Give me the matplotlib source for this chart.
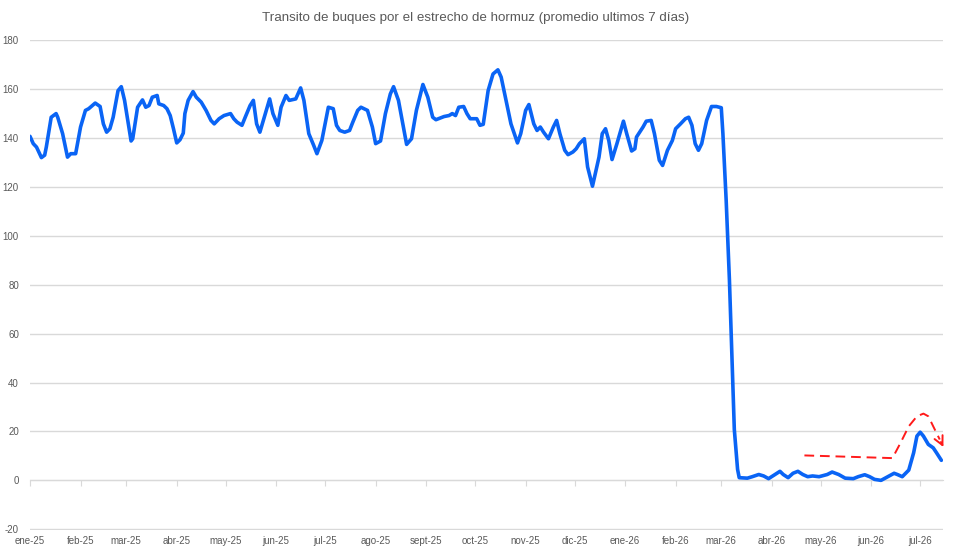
# Transito de buques - estrecho de Hormuz
# promedio movil 7 dias

from datetime import datetime, timedelta
import matplotlib
matplotlib.use('Agg')
from matplotlib import pyplot as plt

START = datetime(2025, 1, 1)

# dias desde el 1-ene-2025
days = [0, 2, 4, 7, 9, 10, 13, 16, 17, 20, 23, 25, 28, 31, 34, 36, 40, 43, 45, 47,
        49, 51, 54, 56, 58, 62, 63, 66, 69, 71, 73, 75, 78, 79, 82, 84, 86, 88, 90, 92,
        94, 95, 97, 100, 102, 105, 108, 111, 113, 116, 119, 123, 125, 127, 130, 132, 135, 137, 139, 141,
        144, 147, 149, 152, 154, 157, 159, 163, 166, 168, 171, 174, 176, 179, 183, 186, 188, 190, 193, 196,
        198, 201, 203, 207, 210, 212, 215, 218, 221, 223, 226, 229, 231, 234, 237, 241, 244, 247, 249, 254,
        257, 259, 261, 263, 266, 268, 270, 274, 276, 278, 281, 284, 287, 289, 292, 295, 299, 301, 304, 306,
        309, 311, 313, 315, 318, 321, 323, 325, 328, 330, 333, 335, 337, 340, 342, 345, 349, 351, 353, 355,
        357, 360, 364, 366, 369, 371, 372, 376, 378, 381, 383, 386, 388, 391, 394, 396, 399, 402, 404, 406,
        408, 410, 412, 415, 418, 421, 424, 425, 427, 429, 431, 432, 434, 435, 440, 443, 447, 450, 453, 456,
        460, 462, 465, 468, 471, 474, 477, 480, 484, 489, 492, 496, 500, 505, 508, 512, 515, 518, 522, 525,
        530, 532, 535, 539, 542, 544, 546, 548, 551, 554, 556, 559]

buques = [140.7, 137.7, 136.3, 132.0, 133.0, 136.3, 148.5, 150.0, 148.5, 141.8, 132.2, 133.6, 133.6, 144.5, 151.3, 152.0, 154.3, 152.9, 145.8, 142.4,
          143.8, 148.5, 159.4, 161.0, 155.4, 138.8, 139.7, 152.6, 155.6, 152.6, 153.3, 156.7, 157.4, 154.0, 153.3, 152.0, 149.2, 143.8, 138.0, 139.3,
          142.0, 150.0, 155.4, 159.0, 156.7, 154.7, 151.3, 147.2, 145.8, 147.9, 149.2, 150.0, 147.9, 146.5, 145.2, 148.5, 153.3, 155.4, 145.8, 142.4,
          149.2, 156.0, 150.0, 145.2, 152.6, 157.4, 155.4, 156.0, 160.5, 155.4, 141.8, 137.0, 133.6, 139.0, 152.6, 152.0, 145.2, 143.1, 142.4, 143.1,
          146.5, 151.3, 152.6, 151.3, 144.5, 137.7, 138.8, 150.0, 158.0, 161.0, 155.4, 144.5, 137.4, 139.7, 151.3, 161.9, 156.7, 148.5, 147.5, 148.8,
          149.2, 150.0, 149.2, 152.6, 152.9, 150.0, 147.9, 147.9, 145.2, 145.6, 159.4, 166.2, 167.9, 164.9, 155.4, 145.8, 138.0, 141.8, 151.3, 153.7,
          145.8, 143.1, 144.5, 142.4, 139.7, 144.5, 147.2, 141.8, 135.0, 133.2, 134.3, 135.6, 137.7, 139.7, 128.2, 120.3, 132.2, 141.8, 143.8, 139.0,
          131.2, 137.7, 146.9, 141.8, 134.7, 135.6, 140.4, 144.5, 146.9, 147.2, 141.8, 130.9, 128.8, 135.0, 139.0, 143.8, 145.8, 147.9, 148.5, 145.2,
          137.7, 135.0, 137.7, 147.2, 152.9, 152.9, 152.4, 141.8, 114.6, 82.0, 41.2, 20.8, 4.5, 1.1, 0.9, 1.5, 2.4, 1.8, 0.7, 2.0,
          3.7, 2.4, 1.1, 2.9, 3.7, 2.4, 1.5, 1.8, 1.5, 2.4, 3.4, 2.4, 0.9, 0.7, 1.5, 2.3, 1.5, 0.4, 0.0, 1.1,
          2.9, 2.4, 1.5, 4.2, 11.3, 18.1, 19.7, 18.1, 14.7, 13.3, 11.3, 8.2]

# flecha roja discontinua (anotacion)
flecha_days = [475, 529, 534, 539, 544, 548, 551, 554, 558, 561]
flecha_vals = [10.2, 9.1, 15.4, 22.1, 26.2, 27.3, 26.2, 22.1, 16.7, 12.6]

meses = ['ene-25', 'feb-25', 'mar-25', 'abr-25', 'may-25', 'jun-25', 'jul-25', 'ago-25',
         'sept-25', 'oct-25', 'nov-25', 'dic-25', 'ene-26', 'feb-26', 'mar-26', 'abr-26',
         'may-26', 'jun-26', 'jul-26']

gris = '#595959'
grid = '#d9d9d9'

fechas = [START + timedelta(days=d) for d in days]
f_fechas = [START + timedelta(days=d) for d in flecha_days]
mes_ticks = [datetime(2025 + i // 12, i % 12 + 1, 1) for i in range(len(meses))]

plt.rcParams['font.family'] = ['Liberation Sans', 'DejaVu Sans']
plt.rcParams['axes.unicode_minus'] = False

fig = plt.figure(figsize=(9.54, 5.55), dpi=100)
ax = fig.add_axes([30 / 954, 1 - 530 / 555, 913 / 954, 490.5 / 555])

ax.plot(fechas, buques, color='#0A64F5', lw=2.6, solid_joinstyle='round',
        solid_capstyle='round', zorder=3)

# flecha roja
ax.plot(f_fechas[:-1], flecha_vals[:-1], color='#FF1A1A', lw=1.4, ls=(0, (5, 3)), zorder=4, clip_on=False)
ax.annotate('', xy=(f_fechas[-1], flecha_vals[-1]), xytext=(f_fechas[-2], flecha_vals[-2]),
            arrowprops=dict(arrowstyle='->', color='#FF1A1A', lw=1.4, mutation_scale=16),
            annotation_clip=False, zorder=4)

ax.set_ylim(-20.3, 180.3)
ax.set_yticks(range(-20, 181, 20))
ax.set_xlim(START, START + timedelta(days=560))
ax.yaxis.grid(True, color=grid, lw=1)
ax.set_axisbelow(True)

for s in ['top', 'right', 'left']:
    ax.spines[s].set_visible(False)
ax.spines['bottom'].set_position(('data', 0))
ax.spines['bottom'].set_color(grid)

ax.set_xticks(mes_ticks)
ax.tick_params(axis='x', length=4, color=grid, labelbottom=False)
ax.tick_params(axis='y', length=0, pad=8, labelsize=7, labelcolor=gris)

# etiquetas de meses abajo
sec = ax.secondary_xaxis('bottom')
sec.set_xticks(mes_ticks)
sec.set_xticklabels(meses)
sec.tick_params(length=0, pad=4, labelsize=7, labelcolor=gris)
sec.spines['bottom'].set_visible(False)

fig.text(0.499, 0.968, 'Transito de buques por el estrecho de hormuz (promedio ultimos 7 días)',
         ha='center', va='center', fontsize=9.6, color=gris)

fig.savefig('out.png', dpi=100)
